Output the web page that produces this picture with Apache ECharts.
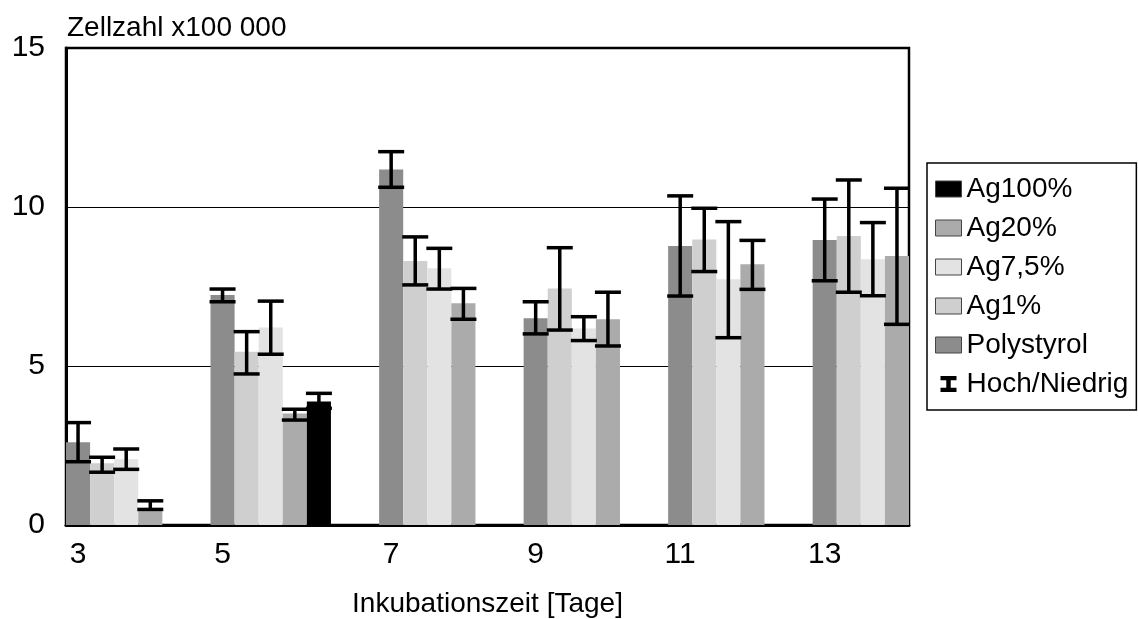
<!DOCTYPE html>
<html>
<head>
<meta charset="utf-8">
<script src="https://cdn.jsdelivr.net/npm/echarts@6/dist/echarts.min.js"></script>
<style>
  html, body { margin: 0; padding: 0; background: #fff; }
  #main { width: 1138px; height: 619px; }
</style>
</head>
<body>
<div id="main"></div>
<script>
// Inkubationstage
var days = ['3', '5', '7', '9', '11', '13'];

// Zellzahl x100 000 (Mittelwert, Hoch, Niedrig)
var polystyrol     = [2.60, 7.23, 11.18, 6.50, 8.77, 8.96];
var polystyrolHigh = [3.22, 7.42, 11.74, 7.02, 10.35, 10.25];
var polystyrolLow  = [1.99, 7.02, 10.62, 6.01, 7.20, 7.68];

var ag1     = [1.94, 5.45, 8.30, 7.44, 8.98, 9.09];
var ag1High = [2.13, 6.08, 9.06, 8.72, 9.96, 10.85];
var ag1Low  = [1.66, 4.75, 7.55, 6.13, 7.97, 7.32];

var ag75     = [2.07, 6.21, 8.07, 6.18, 7.73, 8.36];
var ag75High = [2.39, 7.04, 8.70, 6.55, 9.54, 9.51];
var ag75Low  = [1.75, 5.37, 7.42, 5.80, 5.89, 7.21];

var ag20     = [0.45, 3.51, 6.97, 6.47, 8.20, 8.46];
var ag20High = [0.76, 3.64, 7.44, 7.32, 8.95, 10.59];
var ag20Low  = [0.49, 3.30, 6.47, 5.63, 7.41, 6.31];

var ag100     = [null, 3.88, null, null, null, null];
var ag100High = [null, 4.14, null, null, null, null];
var ag100Low  = [null, 3.67, null, null, null, null];

// Layout: the x axis is split into narrow slots, one per bar
var slotCount = 35;
var groupStart = [0, 6, 13, 19, 25, 31];

var slots = [];
var slotLabels = [];
for (var i = 0; i < slotCount; i++) {
    slots.push(String(i));
    slotLabels.push('');
}
days.forEach(function (d, k) { slotLabels[groupStart[k]] = d; });

function barData(values, offset) {
    var arr = [];
    for (var i = 0; i < slotCount; i++) arr.push(null);
    values.forEach(function (v, k) {
        if (v != null) arr[groupStart[k] + offset] = v;
    });
    return arr;
}

function errData(lows, highs, offset) {
    var arr = [];
    lows.forEach(function (lo, k) {
        if (lo != null) arr.push([groupStart[k] + offset, lo, highs[k]]);
    });
    return arr;
}

var seriesDefs = [
    {name: 'Polystyrol', values: polystyrol, high: polystyrolHigh, low: polystyrolLow, color: '#8c8c8c'},
    {name: 'Ag1%',       values: ag1,        high: ag1High,        low: ag1Low,        color: '#cfcfcf'},
    {name: 'Ag7,5%',     values: ag75,       high: ag75High,       low: ag75Low,       color: '#e3e3e3'},
    {name: 'Ag20%',      values: ag20,       high: ag20High,       low: ag20Low,       color: '#ababab'},
    {name: 'Ag100%',     values: ag100,      high: ag100High,      low: ag100Low,      color: '#000000'}
];

var font = 'Liberation Sans, Arial, sans-serif';

var series = [];
var errAll = [];
seriesDefs.forEach(function (s, idx) {
    series.push({
        name: s.name,
        type: 'bar',
        data: barData(s.values, idx),
        barGap: '-100%',
        barCategoryGap: 0,
        itemStyle: {color: s.color},
        emphasis: {disabled: true}
    });
    errAll = errAll.concat(errData(s.low, s.high, idx));
});

series.push({
    name: 'Hoch/Niedrig',
    type: 'custom',
    data: errAll,
    encode: {x: 0, y: [1, 2]},
    z: 10,
    itemStyle: {color: '#000'},
    renderItem: function (params, api) {
        var lo = api.coord([api.value(0), api.value(1)]);
        var hi = api.coord([api.value(0), api.value(2)]);
        var half = 13;
        var style = {stroke: '#000', lineWidth: 3.5, fill: null};
        return {
            type: 'group',
            children: [
                {type: 'line', shape: {x1: lo[0], y1: lo[1], x2: hi[0], y2: hi[1]}, style: style},
                {type: 'line', shape: {x1: lo[0] - half, y1: lo[1], x2: lo[0] + half, y2: lo[1]}, style: style},
                {type: 'line', shape: {x1: hi[0] - half, y1: hi[1], x2: hi[0] + half, y2: hi[1]}, style: style}
            ]
        };
    }
});

var myChart = echarts.init(document.getElementById('main'));
var option = {
    backgroundColor: '#fff',
    animation: false,
    textStyle: {fontFamily: font},
    title: {
        text: 'Zellzahl x100 000',
        left: 67,
        top: 14,
        padding: 0,
        textStyle: {fontFamily: font, fontSize: 28, fontWeight: 'normal', color: '#000'}
    },
    legend: {
        orient: 'vertical',
        left: 927,
        top: 163,
        padding: [12, 8, 12, 8],
        itemGap: 11,
        itemWidth: 26,
        itemHeight: 16,
        borderColor: '#000',
        borderWidth: 1.5,
        textStyle: {fontFamily: font, fontSize: 28, color: '#000'},
        itemStyle: {borderColor: '#444', borderWidth: 1},
        data: [
            {name: 'Ag100%', icon: 'rect'},
            {name: 'Ag20%', icon: 'rect'},
            {name: 'Ag7,5%', icon: 'rect'},
            {name: 'Ag1%', icon: 'rect'},
            {name: 'Polystyrol', icon: 'rect'},
            {name: 'Hoch/Niedrig', icon: 'path://M0,0 L10,0 L10,2.6 L6.4,2.6 L6.4,7.4 L10,7.4 L10,10 L0,10 L0,7.4 L3.6,7.4 L3.6,2.6 L0,2.6 Z',
             itemStyle: {color: '#000', borderWidth: 0}}
        ]
    },
    grid: {
        left: 66,
        top: 48,
        width: 843,
        height: 477,
        outerBoundsMode: 'none',
        containLabel: false,
        show: true,
        borderColor: '#000',
        borderWidth: 2.5
    },
    xAxis: {
        type: 'category',
        data: slots,
        name: 'Inkubationszeit [Tage]',
        nameLocation: 'middle',
        nameGap: 65,
        nameTextStyle: {fontFamily: font, fontSize: 28, color: '#000'},
        axisLine: {lineStyle: {color: '#000', width: 3}},
        axisTick: {show: false},
        axisLabel: {
            interval: 0,
            margin: 15,
            fontSize: 30,
            color: '#000',
            fontFamily: font,
            formatter: function (v, i) { return slotLabels[Number(v)]; }
        }
    },
    yAxis: {
        type: 'value',
        min: 0,
        max: 15,
        interval: 5,
        axisLine: {show: true, lineStyle: {color: '#000', width: 3}},
        axisTick: {show: false},
        axisLabel: {margin: 21, fontSize: 30, color: '#000', fontFamily: font},
        splitLine: {lineStyle: {color: '#000', width: 1.2}}
    },
    series: series
};
myChart.setOption(option);
</script>
</body>
</html>
